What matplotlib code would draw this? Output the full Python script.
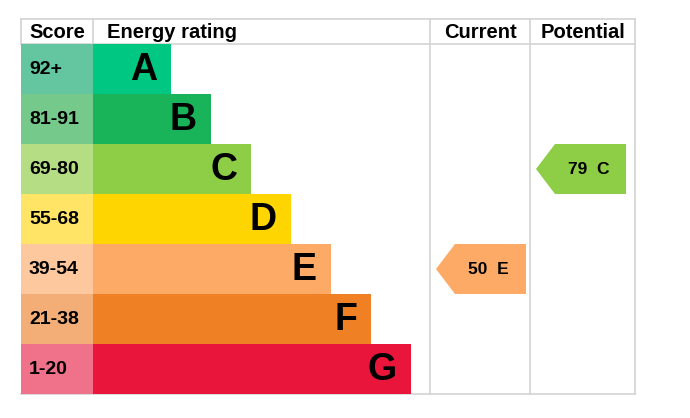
import matplotlib
matplotlib.use("Agg")
import matplotlib.pyplot as plt
from matplotlib.patches import Polygon

plt.rcParams['font.family'] = ['Liberation Sans', 'DejaVu Sans']

# data
bands = ["A", "B", "C", "D", "E", "F", "G"]
score_labels = ["92+", "81-91", "69-80", "55-68", "39-54", "21-38", "1-20"]
band_min = [92, 81, 69, 55, 39, 21, 1]
bar_colors = ["#00c781", "#19b459", "#8dce46", "#ffd500", "#fcaa65", "#ef8023", "#e9153b"]
score_colors = ["#63c6a0", "#75c98b", "#b4dd84", "#ffe466", "#fdc89d", "#f3ae78", "#f0718a"]
current_score = 50
potential_score = 79

# layout (pixels)
left, score_right, current_left, potential_left, right = 21, 93, 430, 530, 635
top, header_bottom, row_h = 19, 44, 50
bottom = header_bottom + row_h * len(bands)
grid = "#d3d3d3"


def band_index(score):
    for i, lo in enumerate(band_min):
        if score >= lo:
            return i
    return len(band_min) - 1


fig = plt.figure(figsize=(6.9, 4.18), dpi=100)
ax = fig.add_axes([0, 0, 1, 1])
ax.set_xlim(0, 690)
ax.set_ylim(418, 0)
ax.axis('off')

centers = [header_bottom + row_h * (i + 0.5) for i in range(len(bands))]
widths = [78 + 40 * i for i in range(len(bands))]

ax.barh(centers, score_right - left, left=left, height=row_h, color=score_colors, zorder=2)
ax.barh(centers, widths, left=score_right, height=row_h, color=bar_colors, zorder=2)

for c, w, b, s in zip(centers, widths, bands, score_labels):
    ax.text(score_right + w - 14, c + 1, b, ha='right', va='center',
            fontsize=27, fontweight='bold', color='black', zorder=3)
    ax.text(left + 8, c, s, ha='left', va='center',
            fontsize=14, fontweight='bold', color='black', zorder=3)

# grid lines
ax.plot([left, right], [top, top], color=grid, lw=1.2, zorder=1)
ax.plot([left, right], [header_bottom, header_bottom], color=grid, lw=1.2, zorder=1)
ax.plot([left, right], [bottom, bottom], color=grid, lw=1.2, zorder=1)
ax.plot([left, left], [top, header_bottom], color=grid, lw=1.2, zorder=1)
ax.plot([score_right, score_right], [top, header_bottom], color=grid, lw=1.2, zorder=1)
for x in (current_left, potential_left, right):
    ax.plot([x, x], [top, bottom], color=grid, lw=1.2, zorder=1)

# headers
hy = (top + header_bottom) / 2 + 1
ax.text(left + 8, hy, "Score", ha='left', va='center', fontsize=14.5, fontweight='bold')
ax.text(score_right + 14, hy, "Energy rating", ha='left', va='center', fontsize=14.5, fontweight='bold')
ax.text((current_left + potential_left) / 2, hy, "Current", ha='center', va='center',
        fontsize=14.5, fontweight='bold')
ax.text((potential_left + right) / 2, hy, "Potential", ha='center', va='center',
        fontsize=14.5, fontweight='bold')


def rating_arrow(col_left, score):
    i = band_index(score)
    y0 = header_bottom + row_h * i
    y1 = y0 + row_h
    tip = col_left + 6
    body = tip + 19
    end = col_left + 96
    pts = [(tip, (y0 + y1) / 2), (body, y0), (end, y0), (end, y1), (body, y1)]
    ax.add_patch(Polygon(pts, closed=True, color=bar_colors[i], lw=0, zorder=2))
    ax.text((body + end) / 2 - 2, (y0 + y1) / 2 + 1, f"{score}  {bands[i]}",
            ha='center', va='center', fontsize=12.5, fontweight='bold', zorder=3)


rating_arrow(current_left, current_score)
rating_arrow(potential_left, potential_score)

fig.savefig("out.png", dpi=100)
